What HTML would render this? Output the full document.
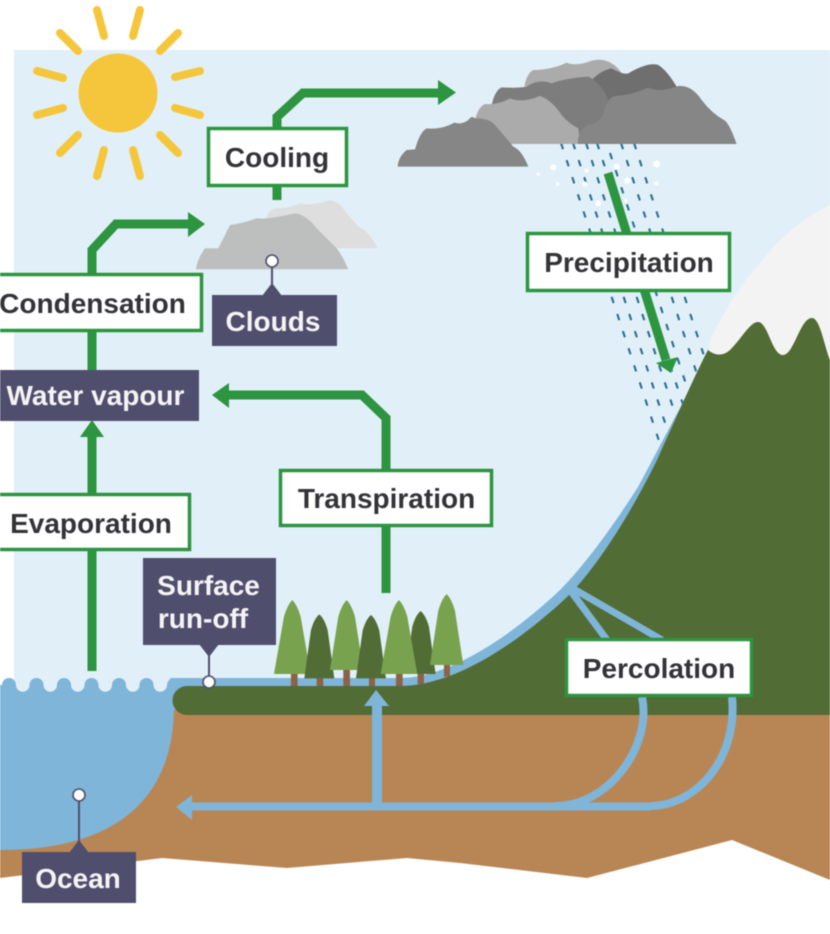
<!DOCTYPE html>
<html>
<head>
<meta charset="utf-8">
<style>
html,body{margin:0;padding:0;background:#fff}
svg{display:block;filter:blur(.55px)}
text{font-family:"Liberation Sans",sans-serif;font-weight:bold;font-size:28px;text-anchor:middle}
.d{fill:#333338}
.w{fill:#f4f4f6}
.box{fill:#fff;stroke:#2d9440;stroke-width:3.5}
.dark{fill:#4f4f6d}
.g{fill:none;stroke:#2d9440;stroke-width:9}
.gf{fill:#2d9440}
.b{fill:none;stroke:#7fb5d8;stroke-width:8}
.bf{fill:#7fb5d8}
.ray{stroke:#f5c63c;stroke-width:8;stroke-linecap:round}
.rain{stroke:#2a6d94;stroke-width:2.1;stroke-dasharray:6.500 11.500;fill:none}
.pin{stroke:#4f4f6d;stroke-width:2;fill:none}
.dot{fill:#fff;stroke:#4f4f6d;stroke-width:1.6}
</style>
</head>
<body>
<svg width="830" height="934" viewBox="0 0 830 934" xmlns="http://www.w3.org/2000/svg">
<rect width="830" height="934" fill="#fff"/>
<rect x="14" y="50" width="816" height="645" fill="#e1f0f8"/>

<!-- sun -->
<circle cx="118" cy="93" r="39.5" fill="#f5c63c"/>
<line class="ray" x1="97" y1="10" x2="104" y2="36"/>
<line class="ray" x1="140" y1="10" x2="133" y2="36"/>
<line class="ray" x1="60" y1="33" x2="78" y2="51"/>
<line class="ray" x1="178" y1="33" x2="160" y2="51"/>
<line class="ray" x1="37" y1="71" x2="63" y2="78"/>
<line class="ray" x1="200" y1="71" x2="175" y2="77"/>
<line class="ray" x1="37" y1="115" x2="63" y2="108"/>
<line class="ray" x1="200" y1="115" x2="175" y2="108"/>
<line class="ray" x1="60" y1="153" x2="78" y2="135"/>
<line class="ray" x1="178" y1="153" x2="160" y2="135"/>
<line class="ray" x1="97" y1="176" x2="104" y2="150"/>
<line class="ray" x1="140" y1="176" x2="133" y2="150"/>

<!-- rain -->
<g>
<line class="rain" x1="561" y1="143" x2="661" y2="447"/>
<line class="rain" x1="573" y1="143" x2="673" y2="447"/>
<line class="rain" x1="586" y1="143" x2="686" y2="447"/>
<line class="rain" x1="597" y1="143" x2="697" y2="447"/>
<line class="rain" x1="610" y1="153" x2="710" y2="457"/>
<line class="rain" x1="621" y1="143" x2="721" y2="447"/>
<line class="rain" x1="634" y1="143" x2="734" y2="447"/>
</g>
<g fill="#fff" transform="translate(390,40) scale(.3333)">
<circle cx="490" cy="382" r="9"/><circle cx="445" cy="402" r="5"/><circle cx="503" cy="432" r="5"/>
<circle cx="585" cy="432" r="8"/><circle cx="590" cy="392" r="6"/><circle cx="625" cy="490" r="9"/>
<circle cx="680" cy="380" r="9"/><circle cx="712" cy="422" r="9"/><circle cx="800" cy="372" r="10"/>
<circle cx="800" cy="430" r="6"/><circle cx="708" cy="482" r="5"/>
</g>

<!-- storm clouds -->
<g transform="translate(395,50) scale(.3333)">
<path fill="#ababab" d="M388,110 Q395,70 415,60 Q470,60 515,38 Q545,50 590,32 Q640,20 675,62 L700,110 Z"/>
<path fill="#6f6f6f" d="M590,90 Q620,60 650,55 Q685,75 700,70 Q760,35 790,45 Q815,60 845,110 L800,160 L640,160 Z"/>
<path fill="#7d7d7d" d="M290,165 Q300,120 320,112 Q370,115 395,110 Q430,85 470,100 Q510,85 580,80 Q620,100 640,150 L600,270 L300,280 Z"/>
<path fill="#ababab" d="M240,210 Q250,170 270,162 Q310,165 345,145 Q380,160 435,138 Q470,150 500,195 Q520,220 550,235 L555,282 L340,282 Z"/>
<path fill="#868686" d="M549,282 Q545,250 575,225 Q610,225 625,190 Q635,145 660,138 Q710,135 760,113 Q790,130 850,108 Q890,105 920,150 Q950,190 990,212 Q1005,225 1025,282 Z"/>
<path fill="#868686" d="M8,350 Q10,320 35,300 L60,298 Q75,245 95,235 Q140,240 178,218 Q200,225 220,210 Q230,195 240,205 Q285,205 300,225 L355,290 Q380,300 400,350 Z"/>
</g>

<!-- small clouds -->
<g transform="scale(.3333)">
<path fill="#dedede" d="M800,660 Q800,630 830,625 Q870,625 900,610 Q930,620 990,600 Q1020,605 1040,640 L1075,680 Q1105,690 1133,745 L1000,745 Z"/>
<path fill="#bdbfbf" d="M588,808 Q590,780 615,745 Q640,745 655,745 L690,675 Q730,670 770,655 Q800,660 885,640 Q920,645 950,685 L1000,735 Q1020,750 1045,808 Z"/>
</g>

<!-- earth -->
<path fill="#b88654" d="M0,700 L830,700 L830,880 L732,840 L587,878 L460,863 L407,858 L287,868 L162,858 L0,878 Z"/>

<!-- ocean -->
<path class="bf" d="M0,700 L0,685 L2,685 A7,7 0 0 1 16,685 A6.750,6.750 0 0 0 29.500,685 A7,7 0 0 1 43.500,685 A6.750,6.750 0 0 0 57,685 A7,7 0 0 1 71,685 A6.750,6.750 0 0 0 84.500,685 A7,7 0 0 1 98.500,685 A6.750,6.750 0 0 0 112,685 A7,7 0 0 1 126,685 A6.750,6.750 0 0 0 139.500,685 A7,7 0 0 1 153.500,685 A6.750,6.750 0 0 0 167,685 Q168,678 175,678 L176,710 L174,710 C172,800 115,850 0,850 Z"/>

<!-- water strip along land -->
<path class="bf" d="M170,678 L400,678 C445,678 505,642 560,590 C590,560 622,512 638,487 C650,465 668,430 680,408 C690,388 700,365 708,350 L730,420 L500,700 L170,700 Z"/>

<!-- snow -->
<path fill="#f3f3f3" d="M710,340 C725,310 740,285 757,267 C770,250 790,225 830,205 L830,380 L708,380 Z"/>

<!-- land -->
<path fill="#526c35" d="M187,686 L400,686 C450,686 510,650 566,598 C600,565 635,505 657,460 C675,420 695,375 708,350 C714,355 722,357 730,350 C742,338 750,322 758,322 C768,322 772,355 783,355 C794,355 800,318 812,318 C820,318 824,345 830,360 L830,715 L187,715 A14.500,14.500 0 0 1 187,686 Z"/>

<!-- trees -->
<g transform="translate(0,550) scale(.3333)">
<g fill="#8c6249">
<rect x="873" y="350" width="20" height="58"/><rect x="950" y="360" width="20" height="48"/>
<rect x="1030" y="350" width="20" height="58"/><rect x="1107" y="360" width="18" height="48"/>
<rect x="1188" y="350" width="20" height="58"/><rect x="1253" y="350" width="19" height="52"/>
<rect x="1332" y="320" width="18" height="60"/>
</g>
<path fill="#79a24f" d="M877,150 Q892,165 902,200 L932,372 L822,372 L852,200 Q862,165 877,150 Z"/>
<path fill="#526c35" d="M958,193 Q973,205 983,240 L1003,385 L913,385 L933,240 Q943,205 958,193 Z"/>
<path fill="#79a24f" d="M1040,150 Q1055,165 1065,200 L1090,360 L990,360 L1015,200 Q1025,165 1040,150 Z"/>
<path fill="#526c35" d="M1262,183 Q1277,195 1287,230 L1307,372 L1217,372 L1237,230 Q1247,195 1262,183 Z"/>
<path fill="#526c35" d="M1113,195 Q1128,207 1138,242 L1158,385 L1068,385 L1088,242 Q1098,207 1113,195 Z"/>
<path fill="#79a24f" d="M1197,150 Q1212,165 1222,200 L1252,372 L1142,372 L1172,200 Q1182,165 1197,150 Z"/>
<path fill="#79a24f" d="M1340,132 Q1355,147 1365,182 L1390,345 L1290,345 L1315,182 Q1325,147 1340,132 Z"/>
</g>

<!-- percolation flows -->
<line class="b" x1="570" y1="590" x2="607" y2="640" style="stroke-width:7"/>
<line class="b" x1="572" y1="588" x2="662" y2="640" style="stroke-width:7"/>
<path class="b" d="M642,697 C652,745 610,806 555,806"/>
<path class="b" d="M732,697 C738,760 695,806 650,806"/>
<line class="b" x1="190" y1="806.500" x2="650" y2="806.500"/>
<polygon class="bf" points="176,807 192,795 192,820"/>
<rect class="bf" x="372" y="704" width="10" height="100"/>
<polygon class="bf" points="376,690 364,706 389,706"/>

<!-- green arrows -->
<path class="g" d="M277,200 L277,117 L303,93 L441,93"/>
<polygon class="gf" points="456,92.500 438,80 438,105"/>
<path class="g" d="M92,372 L92,250 L116,224 L190,224"/>
<polygon class="gf" points="205,224 188,212 188,237"/>
<line class="g" x1="92" y1="671" x2="92" y2="435"/>
<polygon class="gf" points="92,420 80,437 104,437"/>
<path class="g" d="M386,593 L386,418 L362,395 L228,395"/>
<polygon class="gf" points="212,395 229,383 229,408"/>
<line class="g" x1="608" y1="173" x2="666" y2="360"/>
<polygon class="gf" points="671,373 656,363 678,357"/>

<!-- labels -->
<rect class="box" x="208.500" y="128.500" width="138" height="57"/>
<text class="d" x="277" y="167">Cooling</text>

<rect class="box" x="-4" y="274.500" width="205.500" height="56"/>
<text class="d" x="92.500" y="313">Condensation</text>

<rect class="dark" x="0" y="370" width="199" height="51"/>
<text class="w" x="95.500" y="405">Water vapour</text>

<line class="pin" x1="272" y1="262" x2="272" y2="290"/>
<polygon class="dark" points="262,296 272,283 282,296"/>
<circle class="dot" cx="272" cy="261" r="6"/>
<rect class="dark" x="212" y="295" width="125" height="51"/>
<text class="w" x="273" y="331">Clouds</text>

<rect class="box" x="-4" y="494.500" width="193.500" height="55"/>
<text class="d" x="91" y="533">Evaporation</text>

<rect class="box" x="280.500" y="470.500" width="211" height="55"/>
<text class="d" x="386.500" y="508">Transpiration</text>

<rect class="box" x="527.500" y="233.500" width="202" height="57"/>
<text class="d" x="629" y="272">Precipitation</text>

<rect class="box" x="566.500" y="639.500" width="185" height="56"/>
<text class="d" x="659" y="678">Percolation</text>

<line class="pin" x1="209" y1="650" x2="209" y2="680"/>
<polygon class="dark" points="199,644 219,644 209,657"/>
<circle class="dot" cx="209" cy="682" r="6"/>
<rect class="dark" x="143" y="558" width="133" height="87"/>
<text class="w" x="208.500" y="595">Surface</text>
<text class="w" x="203" y="628">run-off</text>

<line class="pin" x1="79" y1="800" x2="79" y2="845"/>
<polygon class="dark" points="69,853 79,840 89,853"/>
<circle class="dot" cx="79" cy="795" r="6"/>
<rect class="dark" x="22" y="852" width="114" height="51"/>
<text class="w" x="78" y="888">Ocean</text>
</svg>
</body>
</html>
